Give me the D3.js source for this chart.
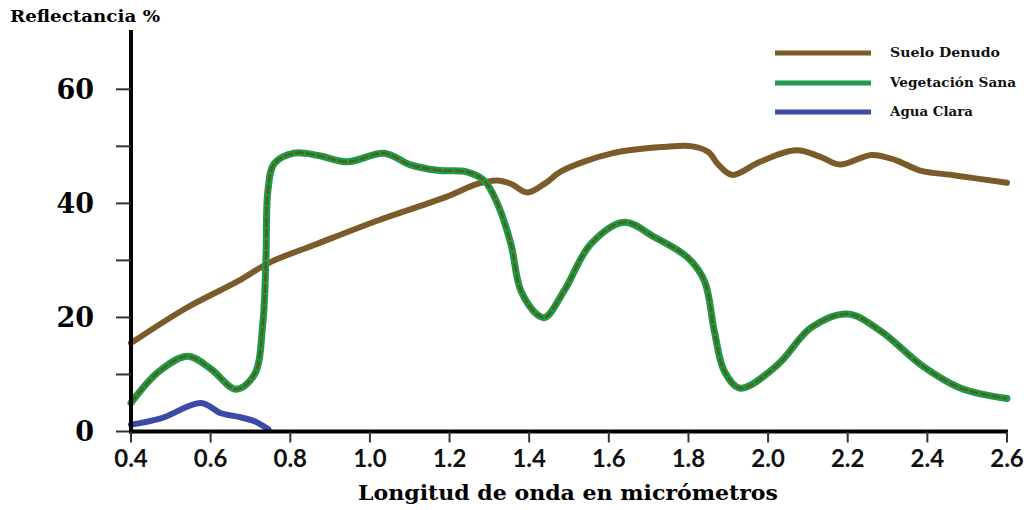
<!DOCTYPE html>
<html>
<head>
<meta charset="utf-8">
<script src="https://cdn.jsdelivr.net/npm/d3@7"></script>
<style>
  html, body { margin: 0; padding: 0; background: #ffffff; }
  svg { display: block; }
</style>
</head>
<body>
<svg id="chart" width="1032" height="510"></svg>
<script>
// Spectral reflectance curves (wavelength in µm, reflectance in %)
const sueloX = [0.40, 0.54, 0.67, 0.75, 0.86, 1.02, 1.19, 1.27, 1.32, 1.355, 1.395, 1.44, 1.48, 1.61, 1.74, 1.81, 1.85, 1.875, 1.91, 1.98, 2.07, 2.13, 2.18, 2.26, 2.32, 2.38, 2.47, 2.60];
const sueloY = [15.5, 21.7, 26.4, 29.7, 32.7, 37.0, 41.1, 43.4, 44.0, 43.4, 41.9, 43.5, 45.6, 48.8, 49.9, 50.0, 49.0, 46.8, 45.0, 47.3, 49.3, 48.2, 46.8, 48.5, 47.6, 45.8, 44.9, 43.6];

const vegX = [0.40, 0.47, 0.542, 0.60, 0.664, 0.71, 0.731, 0.739, 0.744, 0.76, 0.81, 0.87, 0.944, 1.036, 1.10, 1.17, 1.245, 1.287, 1.32, 1.354, 1.379, 1.42, 1.44, 1.488, 1.555, 1.639, 1.714, 1.798, 1.84, 1.865, 1.89, 1.93, 2.024, 2.108, 2.20, 2.283, 2.384, 2.484, 2.60];
const vegY = [5.0, 10.5, 13.2, 11.0, 7.4, 10.0, 18.9, 30.5, 42.3, 47.0, 48.8, 48.4, 47.3, 48.8, 46.8, 45.8, 45.5, 44.0, 40.0, 32.9, 24.7, 20.5, 20.0, 24.7, 32.9, 36.7, 34.1, 30.5, 26.4, 17.6, 10.6, 7.6, 11.7, 18.2, 20.6, 17.6, 11.7, 7.6, 5.8];

const aguaX = [0.40, 0.475, 0.576, 0.626, 0.668, 0.71, 0.745];
const aguaY = [1.2, 2.3, 5.0, 3.2, 2.6, 1.8, 0.4];

const xTicks = [0.4, 0.6, 0.8, 1.0, 1.2, 1.4, 1.6, 1.8, 2.0, 2.2, 2.4, 2.6];
const yTicks = [0, 10, 20, 30, 40, 50, 60];
const yLabels = [0, 20, 40, 60];

const seriesNames = ["Suelo Denudo", "Vegetación Sana", "Agua Clara"];
const seriesColors = ["#7c5b2b", "#1f9a4c", "#3a4aa6"];

const svg = d3.select("#chart");

const x = d3.scaleLinear().domain([0.4, 2.6]).range([131, 1007]);
const y = d3.scaleLinear().domain([0, 70.4]).range([431.5, 30]);

const line = d3.line()
  .x(d => x(d[0]))
  .y(d => y(d[1]))
  .curve(d3.curveCatmullRom.alpha(0.5));

const zip = (a, b) => a.map((v, i) => [v, b[i]]);

// Curves
const gLines = svg.append("g");
gLines.append("path")
  .attr("d", line(zip(sueloX, sueloY)))
  .attr("fill", "none")
  .attr("stroke", seriesColors[0])
  .attr("stroke-width", 6)
  .attr("stroke-linecap", "round");

gLines.append("path")
  .attr("d", line(zip(vegX, vegY)))
  .attr("fill", "none")
  .attr("stroke", seriesColors[1])
  .attr("stroke-width", 7)
  .attr("stroke-linecap", "round");
gLines.append("path")
  .attr("d", line(zip(vegX, vegY)))
  .attr("fill", "none")
  .attr("stroke", "#4d6414")
  .attr("stroke-width", 2.6)
  .attr("stroke-dasharray", "9,2");

gLines.append("path")
  .attr("d", line(zip(aguaX, aguaY)))
  .attr("fill", "none")
  .attr("stroke", seriesColors[2])
  .attr("stroke-width", 6)
  .attr("stroke-linecap", "round");

// Y axis
const yAxis = svg.append("g").attr("transform", `translate(${x(0.4)},0)`);
yAxis.append("line")
  .attr("x1", 0).attr("x2", 0)
  .attr("y1", 30).attr("y2", y(0) + 2)
  .attr("stroke", "#000").attr("stroke-width", 4);
yAxis.selectAll("line.tick")
  .data(yTicks)
  .join("line")
  .attr("class", "tick")
  .attr("x1", -15).attr("x2", 0)
  .attr("y1", d => y(d)).attr("y2", d => y(d))
  .attr("stroke", "#333").attr("stroke-width", 2);
yAxis.selectAll("text")
  .data(yLabels)
  .join("text")
  .attr("x", -37)
  .attr("y", d => y(d))
  .attr("dy", "0.35em")
  .attr("text-anchor", "end")
  .attr("font-family", "DejaVu Serif, serif")
  .attr("font-weight", "bold")
  .attr("font-size", 27)
  .attr("fill", "#000")
  .text(d => d);

// X axis
const xAxis = svg.append("g").attr("transform", `translate(0,${y(0)})`);
xAxis.append("line")
  .attr("x1", x(0.4) - 2).attr("x2", x(2.6) + 1)
  .attr("y1", 0).attr("y2", 0)
  .attr("stroke", "#000").attr("stroke-width", 4);
xAxis.selectAll("line.tick")
  .data(xTicks)
  .join("line")
  .attr("class", "tick")
  .attr("x1", d => x(d)).attr("x2", d => x(d))
  .attr("y1", 0).attr("y2", 11)
  .attr("stroke", "#333").attr("stroke-width", 2);
xAxis.selectAll("text")
  .data(xTicks)
  .join("text")
  .attr("x", d => x(d))
  .attr("y", 35)
  .attr("text-anchor", "middle")
  .attr("font-family", "Lato, sans-serif")
  .attr("font-weight", "bold")
  .attr("font-size", 24)
  .attr("fill", "#111")
  .text(d => d.toFixed(1));

// Titles
svg.append("text")
  .attr("x", 10).attr("y", 22)
  .attr("font-family", "DejaVu Serif, serif")
  .attr("font-weight", "bold")
  .attr("font-size", 17)
  .attr("textLength", 150)
  .attr("lengthAdjust", "spacingAndGlyphs")
  .attr("fill", "#000")
  .text("Reflectancia %");

svg.append("text")
  .attr("x", 568).attr("y", 500)
  .attr("text-anchor", "middle")
  .attr("font-family", "DejaVu Serif, serif")
  .attr("font-weight", "bold")
  .attr("font-size", 21)
  .attr("textLength", 420)
  .attr("lengthAdjust", "spacingAndGlyphs")
  .attr("fill", "#000")
  .text("Longitud de onda en micrómetros");

// Legend
const legendY = [53, 83, 112];
const legendW = [110, 126, 83];
const legend = svg.append("g");
seriesNames.forEach((name, i) => {
  legend.append("line")
    .attr("x1", 775).attr("x2", 871)
    .attr("y1", legendY[i]).attr("y2", legendY[i])
    .attr("stroke", seriesColors[i])
    .attr("stroke-width", 5);
  legend.append("text")
    .attr("x", 890).attr("y", legendY[i] + 4)
    .attr("font-family", "DejaVu Serif, serif")
    .attr("font-weight", "bold")
    .attr("font-size", 13)
    .attr("textLength", legendW[i])
    .attr("lengthAdjust", "spacingAndGlyphs")
    .attr("fill", "#111")
    .text(name);
});
</script>
</body>
</html>
